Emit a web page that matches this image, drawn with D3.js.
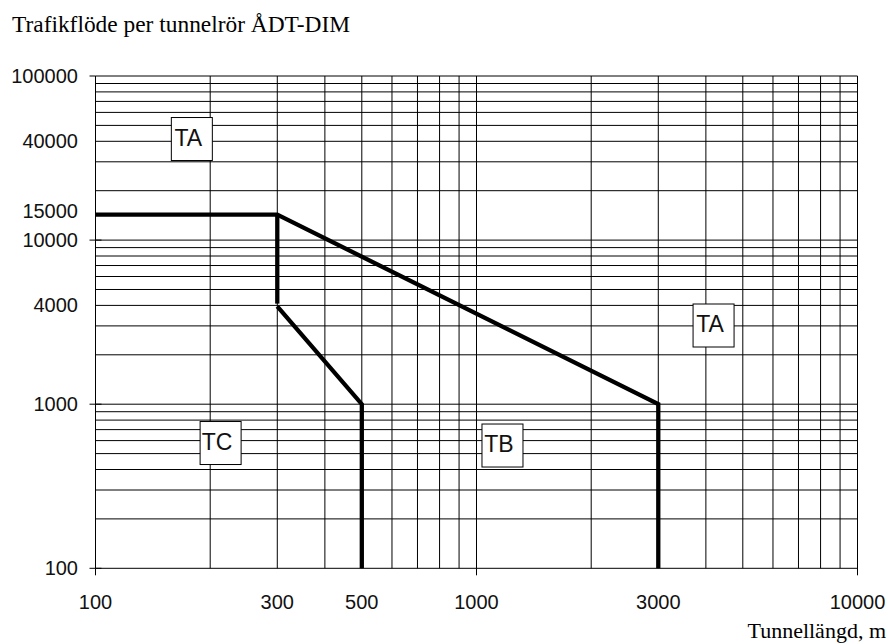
<!DOCTYPE html>
<html>
<head>
<meta charset="utf-8">
<script src="https://cdn.jsdelivr.net/npm/d3@7"></script>
<style>
  body { margin: 0; background: #fff; }
  svg { display: block; }
</style>
</head>
<body>
<svg id="chart" width="888" height="644"></svg>
<script>
// axis tick labels
const xTickValues = [100, 300, 500, 1000, 3000, 10000];
const yTickValues = [100, 1000, 4000, 10000, 15000, 40000, 100000];

// limit lines (tunnel length m, traffic per tube)
const limitTopX = [100, 300, 3000, 3000];
const limitTopY = [14300, 14300, 1000, 100];
const limitStepX = [300, 300];
const limitStepY = [14300, 4100];
const limitLowX = [300, 500, 500];
const limitLowY = [3950, 1000, 100];

// class labels
const classNames = ["TA", "TA", "TB", "TC"];
const classX = [179, 4190, 1170, 213];
const classY = [41300, 3017, 560, 580];

const svg = d3.select("#chart");

const x = d3.scaleLog().domain([100, 10000]).range([95.5, 857.5]);
const y = d3.scaleLog().domain([100, 100000]).range([568.3, 76]);

// grid
const grid = svg.append("g").attr("stroke", "#000").attr("stroke-width", 1);
grid.selectAll(".gx")
  .data(x.ticks())
  .enter()
  .append("line")
  .attr("x1", (d) => x(d))
  .attr("x2", (d) => x(d))
  .attr("y1", y(100000))
  .attr("y2", y(100));
grid.selectAll(".gy")
  .data(y.ticks())
  .enter()
  .append("line")
  .attr("x1", x(100))
  .attr("x2", x(10000))
  .attr("y1", (d) => y(d))
  .attr("y2", (d) => y(d));

// major tick marks
const majorsY = [100, 1000, 10000, 100000];
svg.append("g").selectAll("line")
  .data(majorsY)
  .enter()
  .append("line")
  .attr("x1", x(100) - 6)
  .attr("x2", (d) => (d === 100000 ? x(100) : x(100) + 6))
  .attr("y1", (d) => y(d))
  .attr("y2", (d) => y(d))
  .attr("stroke", "#000");
const majorsX = [100, 1000, 10000];
svg.append("g").selectAll("line")
  .data(majorsX)
  .enter()
  .append("line")
  .attr("x1", (d) => x(d))
  .attr("x2", (d) => x(d))
  .attr("y1", (d) => (d === 10000 ? y(100) - 6 : y(100)))
  .attr("y2", y(100) + 7)
  .attr("stroke", "#000");

// tick labels
svg.append("g").selectAll("text")
  .data(yTickValues)
  .enter()
  .append("text")
  .attr("x", 78)
  .attr("y", (d) => y(d))
  .attr("dy", "0.35em")
  .attr("text-anchor", "end")
  .attr("font-family", "Liberation Sans, Arial, sans-serif")
  .attr("font-size", 20)
  .attr("fill", "#111")
  .text((d) => d);

svg.append("g").selectAll("text")
  .data(xTickValues)
  .enter()
  .append("text")
  .attr("x", (d) => x(d))
  .attr("y", 609)
  .attr("text-anchor", "middle")
  .attr("font-family", "Liberation Sans, Arial, sans-serif")
  .attr("font-size", 20)
  .attr("fill", "#111")
  .text((d) => d);

// limit lines
const line = d3.line().x((d) => x(d[0])).y((d) => y(d[1]));
[
  [limitTopX, limitTopY],
  [limitStepX, limitStepY],
  [limitLowX, limitLowY],
].forEach(([xs, ys]) => {
  svg.append("path")
    .attr("d", line(d3.zip(xs, ys)))
    .attr("fill", "none")
    .attr("stroke", "#000")
    .attr("stroke-width", 4.3)
    .attr("stroke-linecap", "butt")
    .attr("stroke-linejoin", "miter");
});

// class boxes
const boxW = 41, boxH = 43;
const boxes = svg.append("g").selectAll("g")
  .data(d3.range(classNames.length))
  .enter()
  .append("g")
  .attr("transform", (i) => `translate(${x(classX[i])},${y(classY[i])})`);
boxes.append("rect")
  .attr("x", -boxW / 2)
  .attr("y", -boxH / 2)
  .attr("width", boxW)
  .attr("height", boxH)
  .attr("fill", "#fff")
  .attr("stroke", "#000");
boxes.append("text")
  .attr("x", -3.5)
  .attr("y", -1.5)
  .attr("text-anchor", "middle")
  .attr("dy", "0.36em")
  .attr("font-family", "Liberation Sans, Arial, sans-serif")
  .attr("font-size", 23)
  .attr("fill", "#111")
  .text((i) => classNames[i]);

// titles
svg.append("text")
  .attr("x", 12)
  .attr("y", 32)
  .attr("font-family", "Liberation Serif, Times New Roman, serif")
  .attr("font-size", 23.4)
  .text("Trafikflöde per tunnelrör ÅDT-DIM");

svg.append("text")
  .attr("x", 886)
  .attr("y", 638)
  .attr("text-anchor", "end")
  .attr("font-family", "Liberation Serif, Times New Roman, serif")
  .attr("font-size", 22)
  .text("Tunnellängd, m");
</script>
</body>
</html>
